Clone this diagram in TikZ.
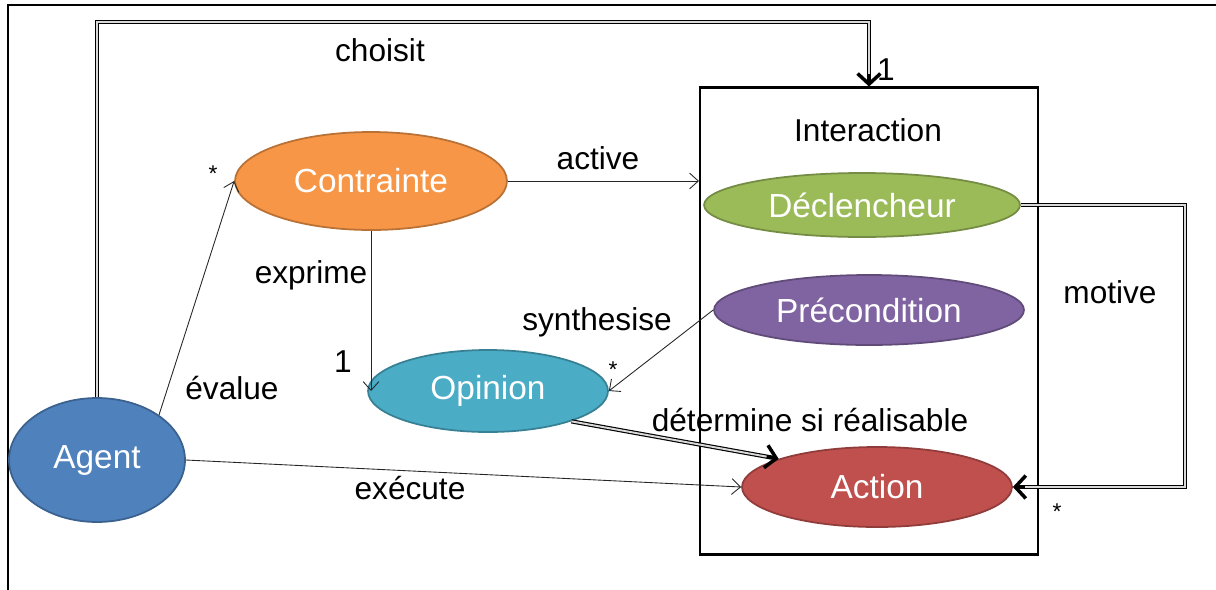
\documentclass[tikz,border=0pt]{standalone}
\usepackage{fontspec}
\setmainfont{Liberation Sans}
\usetikzlibrary{arrows.meta}
\usetikzlibrary{positioning}
\usetikzlibrary{shapes.geometric}
\definecolor{agentc}{HTML}{4F81BD}
\definecolor{contraintec}{HTML}{F79646}
\definecolor{opinionc}{HTML}{4BACC6}
\definecolor{declc}{HTML}{9BBB59}
\definecolor{precc}{HTML}{8064A2}
\definecolor{actionc}{HTML}{C0504D}
\tikzset {
  % filled ellipse for a concept
  concept/.style = {
    ellipse,
    draw = #1!75!black,
    fill = #1,
    line width = 1pt,
    text = white,
    inner sep = 0,
    font = \fontsize{19}{21}\selectfont
  },
  % text on a link
  lbl/.style = {
    inner sep = 0,
    font = \fontsize{18}{20}\selectfont
  },
  % multiplicity
  mult/.style = {
    inner sep = 0,
    font = \fontsize{13}{14}\selectfont
  },
  % thin association
  assoc/.style = {
    draw = black!85,
    line width = 0.5pt,
    -{Straight Barb[length=5pt,width=9pt]}
  },
  % double association: black outer line, grey core drawn again on top
  dassoc/.style = {
    draw = black,
    line width = 2.4pt,
    -{Straight Barb[length=6pt,width=13pt,line width=2pt]},
    postaction = {
      draw = gray!30,
      line width = 1.1pt,
      arrows = -,
      shorten >= 7pt
    }
  },
  frame/.style = {
    draw = black,
    line width = 1.2pt
  }
}

\begin{document}
\begin{tikzpicture}[x=0.02cm, y=-0.02cm]
    \clip (0,0) rectangle (1216,589);
    \draw[frame] (8,5) rectangle (1240,620);

    \node[frame, rectangle, minimum width=6.76cm, minimum height=9.34cm] (interaction) at (869,321) {};
    \node[lbl] (interaction-title) at (868,130) {Interaction};

    \node[concept=agentc, minimum width=3.52cm, minimum height=2.48cm] (agent) at (97,460) {Agent};
    \node[concept=contraintec, minimum width=5.44cm, minimum height=1.96cm] (contrainte) at (371,181) {Contrainte};
    \node[concept=opinionc, minimum width=4.8cm, minimum height=1.64cm] (opinion) at (488,391) {Opinion};
    \node[concept=declc, minimum width=6.32cm, minimum height=1.28cm] (declencheur) at (862,205) {Déclencheur};
    \node[concept=precc, minimum width=6.2cm, minimum height=1.4cm] (precondition) at (869,310) {Précondition};
    \node[concept=actionc, minimum width=5.4cm, minimum height=1.6cm] (action) at (877,487) {Action};

    \coordinate (choisit-turn) at (97,22);
    \coordinate (motive-top) at (1185,205);
    \coordinate (motive-bot) at (1185,487);

    \draw[dassoc] (agent.north) -- (choisit-turn) -| (interaction.north);
    \draw[assoc] (agent.36) -- (contrainte.west);
    \draw[assoc] (contrainte.east) -- (contrainte.east -| interaction.west);
    \draw[assoc] (contrainte.south) -- (contrainte.south |- opinion.west);
    \draw[assoc] (precondition.west) -- (opinion.east);
    \draw[dassoc] (opinion.-20) -- (action.164);
    \draw[assoc] (agent.east) -- (action.west);
    \draw[dassoc] (declencheur.east) -- (motive-top) -- (motive-bot) -- (action.east);

    \node[lbl] (choisit) at (380,50) {choisit};
    \node[lbl] (choisit-m) at (886,70) {1};
    \node[lbl] (active) at (598,158) {active};
    \node[mult] (evalue-m) at (213,174) {*};
    \node[lbl] (exprime) at (311,275) {exprime};
    \node[lbl] (synthesise) at (597,322) {synthesise};
    \node[lbl] (motive) at (1110,292) {motive};
    \node[lbl] (exprime-m) at (343,362) {1};
    \node[mult] (synthesise-m) at (613,370) {*};
    \node[lbl] (evalue) at (232,388) {évalue};
    \node[lbl] (determine) at (810,420) {détermine si réalisable};
    \node[lbl] (execute) at (410,488) {exécute};
    \node[mult] (motive-m) at (1057,512) {*};
\end{tikzpicture}
\end{document}
